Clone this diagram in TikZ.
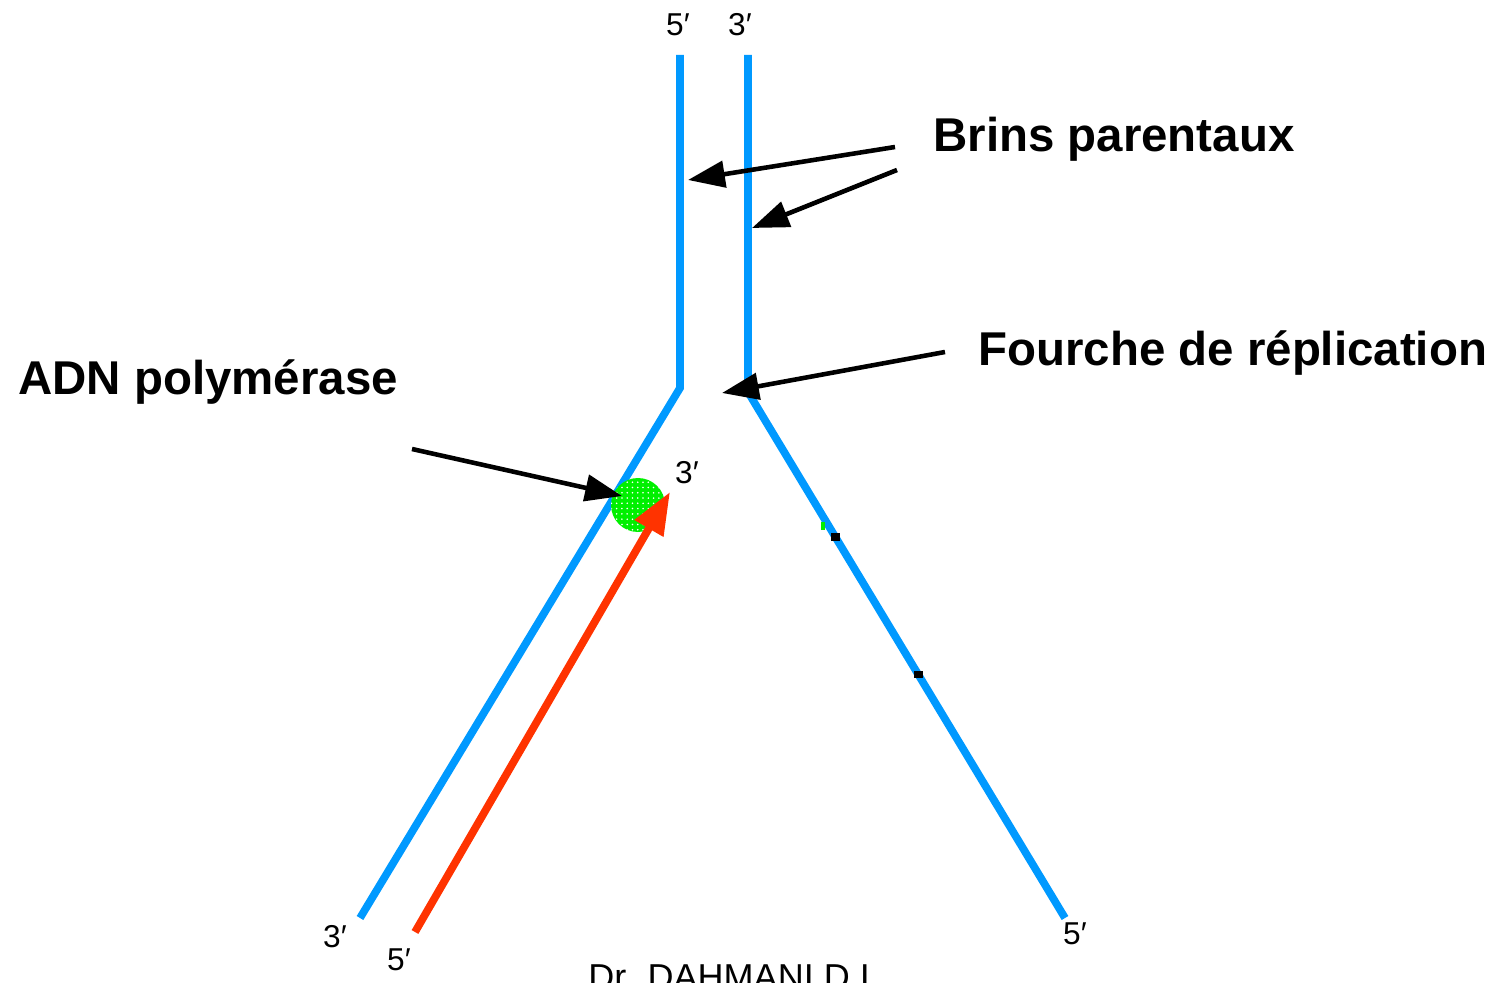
\documentclass[tikz,border=0pt]{standalone}
\usepackage{fontspec}
\setmainfont{Liberation Sans}
\usetikzlibrary{arrows.meta,patterns}
\definecolor{strandblue}{RGB}{0,153,255}
\definecolor{newred}{RGB}{255,51,0}
\definecolor{polgreen}{RGB}{0,240,0}
\tikzset{
  strand/.style={line width=4.4pt, strandblue, line join=miter},
  pointer/.style={line width=2.6pt, black, -{Triangle[length=21pt,width=15pt]}},
  endlabel/.style={font=\fontsize{18}{18}\selectfont, inner sep=0pt},
  biglabel/.style={font=\fontsize{27}{27}\selectfont\bfseries, inner sep=0pt, anchor=base west},
}
\begin{document}
\begin{tikzpicture}[x=0.02cm,y=-0.02cm]
\useasboundingbox (0,0) rectangle (1499,983);
% strand coordinates
\coordinate (Ltop) at (680,55);
\coordinate (Lbend) at (680,388);
\coordinate (Lbot) at (360,918);
\coordinate (Rtop) at (748,55);
\coordinate (Rbend) at (748,392);
\coordinate (Rbot) at (1065,918);
% parental strands
\draw[strand] (Ltop) -- (Lbend) -- (Lbot);
\draw[strand] (Rtop) -- (Rbend) -- (Rbot);
% polymerase
\fill[polgreen] (638,505) circle (27);
\fill[pattern=dots, pattern color=white] (638,505) circle (27);
% new strand
\coordinate (Nstart) at (415,932);
\coordinate (Ntip) at (670,492);
\draw[line width=4.4pt, newred, -{Triangle[length=24pt,width=18pt]}] (Nstart) -- (Ntip);
% small artefacts on right strand
\fill[black] (831,533) rectangle (840,541);
\fill[black] (914,671) rectangle (923,678);
\fill[polgreen] (821,522) rectangle (825,530);
% labels
\node[biglabel] (brins) at (933,152) {Brins parentaux};
\node[biglabel] (fourche) at (978,366) {Fourche de réplication};
\node[biglabel] (adn) at (18,395) {ADN polymérase};
% pointer coordinates
\coordinate (b1s) at (895,147);
\coordinate (b1e) at (688,180);
\coordinate (b2s) at (897,170);
\coordinate (b2e) at (752,228);
\coordinate (fs) at (945,352);
\coordinate (fe) at (722,393);
\coordinate (as) at (412,449);
\coordinate (ae) at (622,496);
\draw[pointer] (b1s) -- (b1e);
\draw[pointer] (b2s) -- (b2e);
\draw[pointer] (fs) -- (fe);
\draw[pointer] (as) -- (ae);
% end labels
\node[endlabel] (t5) at (678,25) {5′};
\node[endlabel] (t3) at (740,25) {3′};
\node[endlabel] (p3) at (687,473) {3′};
\node[endlabel] (l3) at (335,937) {3′};
\node[endlabel] (n5) at (399,960) {5′};
\node[endlabel] (r5) at (1075,934) {5′};
% footer (cut off at the lower edge, as in the original)
\node[font=\fontsize{20.5}{20.5}\selectfont, inner sep=0pt, anchor=base west] (author) at (588,989) {Dr. DAHMANI D.I};
\end{tikzpicture}
\end{document}
